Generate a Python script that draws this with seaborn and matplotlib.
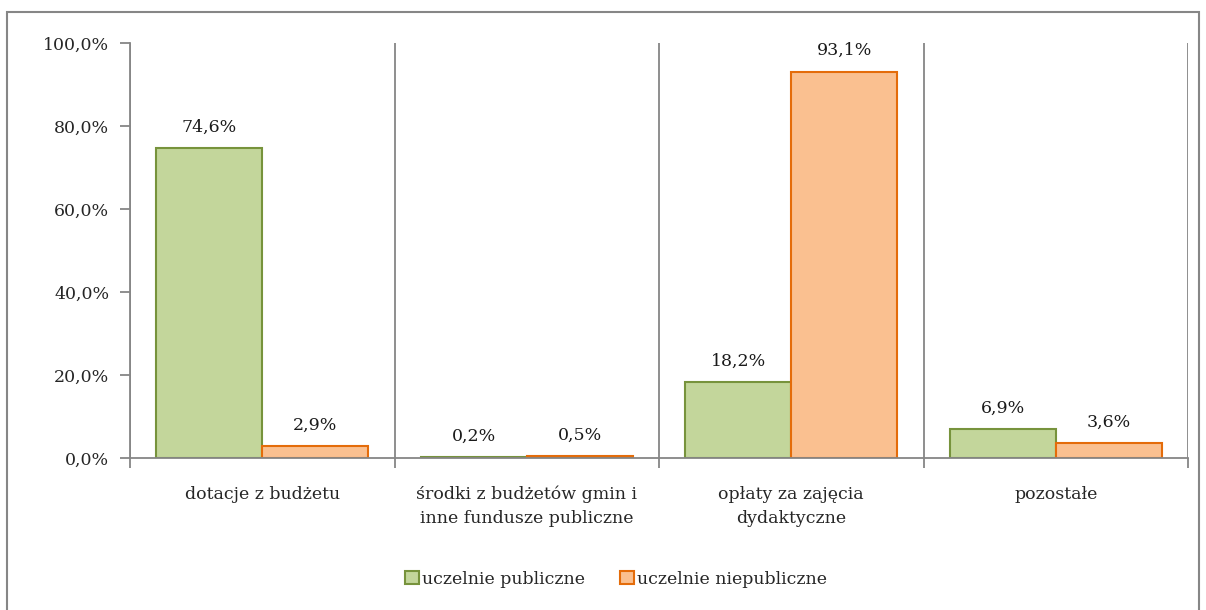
import matplotlib
matplotlib.use("Agg")
import matplotlib.pyplot as plt
import seaborn as sns
import pandas as pd
from matplotlib.patches import Rectangle, Patch
from matplotlib.ticker import FixedLocator

categories = ["dotacje z budżetu",
              "środki z budżetów gmin i\ninne fundusze publiczne",
              "opłaty za zajęcia\ndydaktyczne",
              "pozostałe"]
series = ["uczelnie publiczne", "uczelnie niepubliczne"]
publiczne = [74.6, 0.2, 18.2, 6.9]
niepubliczne = [2.9, 0.5, 93.1, 3.6]
yticks = [0, 20, 40, 60, 80, 100]

fill = {"uczelnie publiczne": "#C3D69B", "uczelnie niepubliczne": "#FAC090"}
edge = {"uczelnie publiczne": "#77933C", "uczelnie niepubliczne": "#E46C0A"}
grey = "#868686"

df = pd.DataFrame({
    "kategoria": categories * 2,
    "seria": [series[0]] * 4 + [series[1]] * 4,
    "wartosc": publiczne + niepubliczne,
})

sns.set_style("white")
plt.rcParams["font.family"] = ["DejaVu Serif"]
plt.rcParams["font.size"] = 12.5

fig = plt.figure(figsize=(12.06, 6.1), dpi=100)
ax = fig.add_axes([130 / 1206, 1 - 458 / 610, (1188 - 130) / 1206, (458 - 43) / 610])

sns.barplot(data=df, x="kategoria", y="wartosc", hue="seria", palette=fill,
            order=categories, hue_order=series, width=0.8, saturation=1,
            ax=ax, legend=False)

for cont, s in zip(ax.containers, series):
    for bar in cont:
        bar.set_edgecolor(edge[s])
        bar.set_linewidth(1.5)
    labels = [f"{v:.1f}%".replace(".", ",") for v in cont.datavalues]
    ax.bar_label(cont, labels=labels, padding=9, color="#1a1a1a")

ax.set_xlim(-0.5, 3.5)
ax.set_ylim(0, 100)
ax.set_yticks(yticks)
ax.set_yticklabels([f"{t:.1f}%".replace(".", ",") for t in yticks])
ax.set_xlabel("")
ax.set_ylabel("")

# category separators
ax.xaxis.set_minor_locator(FixedLocator([-0.5, 0.5, 1.5, 2.5, 3.5]))
ax.grid(which="minor", axis="x", color=grey, linewidth=1.3)
ax.tick_params(axis="x", which="major", bottom=False, length=0, pad=20)
ax.tick_params(axis="x", which="minor", bottom=True, length=7, width=1.3,
               color=grey, direction="out")
ax.tick_params(axis="y", left=True, length=7, width=1.3, color=grey,
               direction="out", pad=8)

for side in ["top", "right"]:
    ax.spines[side].set_visible(False)
for side in ["left", "bottom"]:
    ax.spines[side].set_color(grey)
    ax.spines[side].set_linewidth(1.3)

for lab in ax.get_xticklabels():
    lab.set_linespacing(1.55)

handles = [Patch(facecolor=fill[s], edgecolor=edge[s], linewidth=1.5, label=s) for s in series]
fig.legend(handles=handles, loc="center", bbox_to_anchor=(616 / 1206, 1 - 579 / 610), ncol=2,
           frameon=False, handlelength=0.8, handleheight=0.8, handletextpad=0.2,
           columnspacing=2.0)

fig.patches.append(Rectangle((7 / 1206, -0.05), 1192 / 1206, 1 - 12 / 610 + 0.05,
                             transform=fig.transFigure, fill=False,
                             edgecolor=grey, linewidth=1.5))

fig.savefig("out.png", dpi=100)
